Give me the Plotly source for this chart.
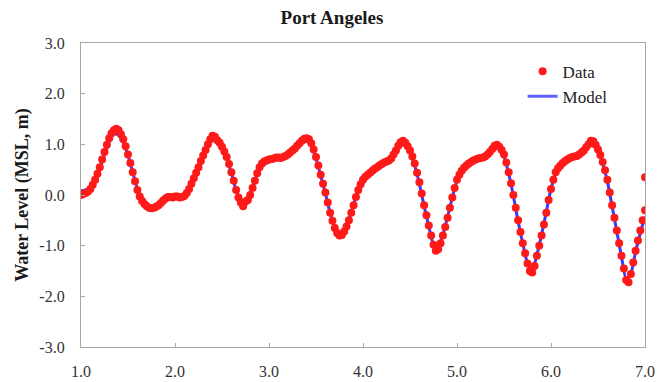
import plotly.graph_objects as go

# Observed water level (days, metres above MSL), sampled every 0.025 day
obs_start = 1.0
obs_step = 0.025
obs_level = [
    0.00, 0.02, 0.04, 0.07, 0.12, 0.20, 0.30, 0.42, 0.55, 0.70,
    0.85, 0.99, 1.12, 1.22, 1.28, 1.31, 1.28, 1.20, 1.10, 0.96,
    0.80, 0.63, 0.45, 0.27, 0.10, -0.03, -0.12, -0.18, -0.22, -0.25,
    -0.26, -0.25, -0.23, -0.20, -0.16, -0.11, -0.07, -0.04, -0.04, -0.05,
    -0.03, -0.03, -0.05, -0.04, -0.02, 0.04, 0.12, 0.22, 0.33, 0.44,
    0.55, 0.67, 0.78, 0.89, 1.00, 1.10, 1.17, 1.15, 1.08, 1.03,
    0.95, 0.86, 0.75, 0.61, 0.45, 0.28, 0.10, -0.05, -0.15, -0.22,
    -0.13, -0.10, 0.00, 0.14, 0.28, 0.43, 0.55, 0.62, 0.66, 0.68,
    0.70, 0.71, 0.72, 0.74, 0.74, 0.73, 0.75, 0.77, 0.80, 0.84,
    0.88, 0.92, 0.97, 1.02, 1.07, 1.11, 1.12, 1.10, 1.02, 0.90,
    0.75, 0.58, 0.40, 0.22, 0.05, -0.15, -0.35, -0.51, -0.65, -0.75,
    -0.80, -0.79, -0.72, -0.62, -0.50, -0.35, -0.20, -0.04, 0.10, 0.21,
    0.30, 0.36, 0.40, 0.44, 0.48, 0.52, 0.55, 0.58, 0.61, 0.64,
    0.66, 0.68, 0.72, 0.80, 0.88, 0.97, 1.04, 1.07, 1.03, 0.96,
    0.88, 0.76, 0.62, 0.44, 0.25, 0.03, -0.20, -0.40, -0.60, -0.80,
    -0.98, -1.10, -1.07, -0.95, -0.80, -0.63, -0.45, -0.25, -0.05, 0.14,
    0.30, 0.40, 0.48, 0.54, 0.58, 0.62, 0.65, 0.68, 0.70, 0.72,
    0.73, 0.74, 0.76, 0.80, 0.85, 0.91, 0.97, 0.99, 0.95, 0.89,
    0.80, 0.64, 0.45, 0.23, 0.00, -0.25, -0.50, -0.73, -0.95, -1.15,
    -1.35, -1.50, -1.53, -1.40, -1.20, -1.00, -0.80, -0.58, -0.35, -0.10,
    0.12, 0.30, 0.45, 0.53, 0.58, 0.63, 0.67, 0.70, 0.73, 0.75,
    0.76, 0.77, 0.80, 0.84, 0.88, 0.94, 1.00, 1.07, 1.06, 0.99,
    0.90, 0.79, 0.65, 0.49, 0.30, 0.05, -0.20, -0.45, -0.70, -0.95,
    -1.20, -1.45, -1.68, -1.72, -1.56, -1.33, -1.10, -0.90, -0.70, -0.50,
    -0.30,
]
# one isolated reading at the end of the record
extra_day = [7.0]
extra_level = [0.35]

# Model water level, every 0.05 day
model_start = 1.0
model_step = 0.05
model_level = [
    0.08, 0.10, 0.15, 0.30, 0.52, 0.80, 1.05, 1.21, 1.18, 1.03,
    0.78, 0.45, 0.12, -0.10, -0.20, -0.24, -0.22, -0.15, -0.07, -0.03,
    -0.02, -0.03, 0.00, 0.13, 0.33, 0.55, 0.76, 0.95, 1.10, 1.04,
    0.92, 0.72, 0.43, 0.10, -0.10, -0.10, 0.02, 0.28, 0.52, 0.62,
    0.66, 0.68, 0.70, 0.72, 0.77, 0.85, 0.93, 1.02, 1.06, 0.97,
    0.72, 0.38, 0.03, -0.35, -0.63, -0.78, -0.70, -0.48, -0.18, 0.10,
    0.28, 0.38, 0.46, 0.53, 0.59, 0.64, 0.70, 0.84, 0.98, 0.98,
    0.84, 0.58, 0.22, -0.22, -0.62, -0.98, -1.05, -0.78, -0.43, -0.05,
    0.28, 0.46, 0.56, 0.63, 0.68, 0.71, 0.74, 0.82, 0.92, 0.90,
    0.76, 0.42, -0.02, -0.52, -0.96, -1.35, -1.50, -1.18, -0.78, -0.33,
    0.12, 0.42, 0.56, 0.65, 0.71, 0.74, 0.78, 0.85, 0.96, 1.00,
    0.86, 0.62, 0.27, -0.22, -0.72, -1.22, -1.66, -1.55, -1.12, -0.75,
    -0.43,
]

x_ticks = [1, 2, 3, 4, 5, 6, 7]
x_labels = ["1.0", "2.0", "3.0", "4.0", "5.0", "6.0", "7.0"]
y_ticks = [-3, -2, -1, 0, 1, 2, 3]
y_labels = ["-3.0", "-2.0", "-1.0", "0.0", "1.0", "2.0", "3.0"]

obs_day = [round(obs_start + i * obs_step, 3) for i in range(len(obs_level))]
model_day = [round(model_start + i * model_step, 3) for i in range(len(model_level))]

serif = "Liberation Serif, Times New Roman, serif"

fig = go.Figure()
fig.add_trace(go.Scatter(
    x=model_day, y=model_level, mode="lines", name="Model",
    line=dict(color="#3a3aff", width=3, shape="spline", smoothing=0.6),
    showlegend=False,
))
fig.add_trace(go.Scatter(
    x=obs_day + extra_day, y=obs_level + extra_level, mode="markers", name="Data",
    marker=dict(color="#ff1a1a", size=8, line=dict(width=0)),
))
# legend entry for the model line (listed after Data)
fig.add_trace(go.Scatter(
    x=[None], y=[None], mode="lines", name="Model",
    line=dict(color="#6060ff", width=3),
))

axis_common = dict(
    showline=True, mirror=True, linecolor="#a6a6a6", linewidth=1.2,
    showgrid=False, zeroline=False, automargin=False,
    ticks="inside", ticklen=4, tickcolor="#a6a6a6", tickwidth=1,
    tickfont=dict(family=serif, size=16, color="#333333"),
)

fig.update_layout(
    width=664, height=382,
    margin=dict(l=81, r=19, t=43, b=35),
    paper_bgcolor="white", plot_bgcolor="white",
    title=dict(text="<b>Port Angeles</b>", x=0.5, xanchor="center",
               y=0.955, yanchor="middle",
               font=dict(family=serif, size=19, color="#1a1a1a")),
    xaxis=dict(range=[1, 7], tickvals=x_ticks, ticktext=x_labels,
               ticklabelstandoff=10, **axis_common),
    yaxis=dict(range=[-3, 3], tickvals=y_ticks, ticktext=y_labels,
               ticklabelstandoff=12,
               title=dict(text="<b>Water Level (MSL, m)</b>", standoff=6,
                          font=dict(family=serif, size=18, color="#1a1a1a")),
               **axis_common),
    legend=dict(x=0.783, y=0.965, xanchor="left", yanchor="top",
                bgcolor="rgba(0,0,0,0)",
                font=dict(family=serif, size=17, color="#222222"),
                itemwidth=30, tracegroupgap=0),
    showlegend=True,
)

fig.write_html("out.html")
